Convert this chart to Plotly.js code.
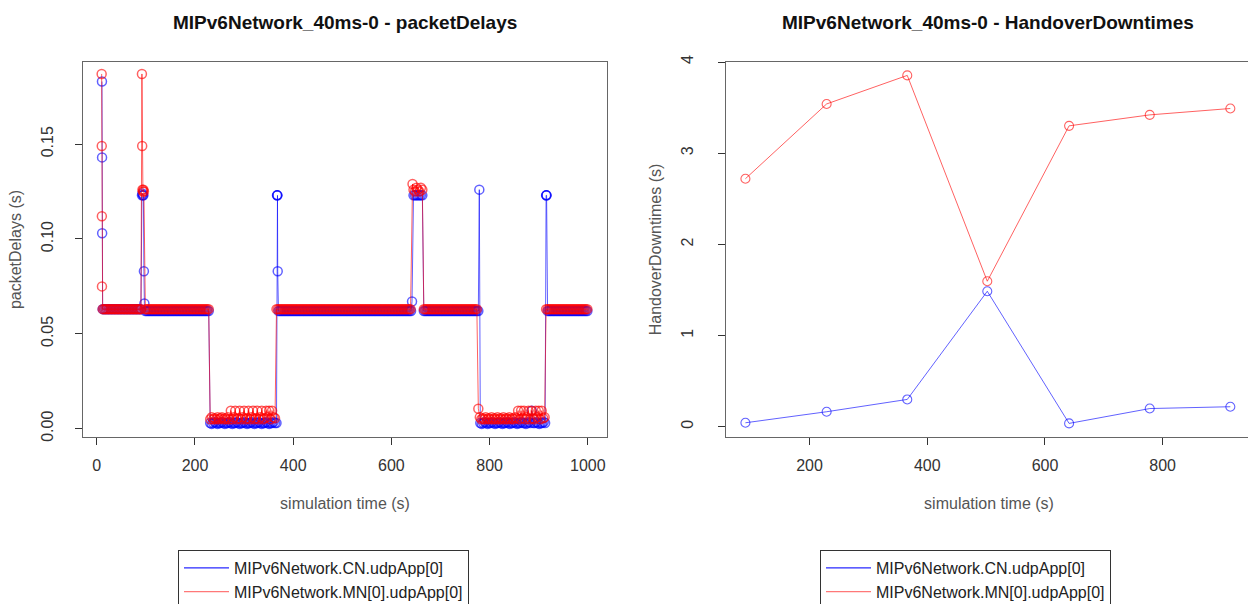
<!DOCTYPE html>
<html>
<head>
<meta charset="utf-8">
<script src="https://cdn.plot.ly/plotly-3.0.1.min.js"></script>
<style>
  html, body { margin: 0; padding: 0; background: #ffffff; overflow: hidden; }
  /* the figure is a little larger than the view; the wrapper crops its right and bottom edges */
  #wrap { position: relative; width: 1248px; height: 604px; overflow: hidden; }
  #chart { width: 1260px; height: 640px; }
</style>
</head>
<body>
<div id="wrap"><div id="chart"></div></div>
<script>
// ---- packetDelays: receive time (s) and end-to-end delay (s) per packet ----

// MIPv6Network.CN.udpApp[0]
const cnTime = [
  10.6, 10.8, 11.0,
  12, 15, 18, 21, 24, 27, 30, 33, 36, 39,
  42, 45, 48, 51, 54, 57, 60, 63, 66, 69,
  72, 75, 78, 81, 84, 87, 90,
  92, 93, 94, 95, 96, 97,
  99, 102, 105, 108, 111, 114, 117, 120, 123, 126,
  129, 132, 135, 138, 141, 144, 147, 150, 153, 156,
  159, 162, 165, 168, 171, 174, 177, 180, 183, 186,
  189, 192, 195, 198, 201, 204, 207, 210, 213, 216,
  219, 222, 225, 228,
  231, 234, 237, 240, 243, 246, 249, 252, 255, 258,
  261, 264, 267, 270, 273, 276, 279, 282, 285, 288,
  291, 294, 297, 300, 303, 306, 309, 312, 315, 318,
  321, 324, 327, 330, 333, 336, 339, 342, 345, 348,
  351, 354, 357, 360, 363, 366,
  367, 367.5, 368, 368.5,
  370, 373, 376, 379, 382, 385, 388, 391, 394, 397,
  400, 403, 406, 409, 412, 415, 418, 421, 424, 427,
  430, 433, 436, 439, 442, 445, 448, 451, 454, 457,
  460, 463, 466, 469, 472, 475, 478, 481, 484, 487,
  490, 493, 496, 499, 502, 505, 508, 511, 514, 517,
  520, 523, 526, 529, 532, 535, 538, 541, 544, 547,
  550, 553, 556, 559, 562, 565, 568, 571, 574, 577,
  580, 583, 586, 589, 592, 595, 598, 601, 604, 607,
  610, 613, 616, 619, 622, 625, 628, 631, 634, 637,
  640,
  642, 645, 648, 651, 654, 657, 660, 663,
  666, 669, 672, 675, 678, 681, 684, 687, 690, 693,
  696, 699, 702, 705, 708, 711, 714, 717, 720, 723,
  726, 729, 732, 735, 738, 741, 744, 747, 750, 753,
  756, 759, 762, 765, 768, 771, 774, 777,
  779,
  781, 784, 787, 790, 793, 796, 799, 802, 805, 808,
  811, 814, 817, 820, 823, 826, 829, 832, 835, 838,
  841, 844, 847, 850, 853, 856, 859, 862, 865, 868,
  871, 874, 877, 880, 883, 886, 889, 892, 895, 898,
  901, 904, 907, 910, 913,
  915, 915.5, 916,
  918, 921, 924, 927, 930, 933, 936, 939, 942, 945,
  948, 951, 954, 957, 960, 963, 966, 969, 972, 975,
  978, 981, 984, 987, 990, 993, 996, 999
];
const cnDelay = [
  0.183, 0.143, 0.103,
  0.063, 0.063, 0.063, 0.063, 0.063, 0.063, 0.063, 0.063, 0.063, 0.063,
  0.063, 0.063, 0.063, 0.063, 0.063, 0.063, 0.063, 0.063, 0.063, 0.063,
  0.063, 0.063, 0.063, 0.063, 0.063, 0.063, 0.063,
  0.123, 0.124, 0.123, 0.123, 0.083, 0.066,
  0.062, 0.062, 0.062, 0.062, 0.062, 0.062, 0.062, 0.062, 0.062, 0.062,
  0.062, 0.062, 0.062, 0.062, 0.062, 0.062, 0.062, 0.062, 0.062, 0.062,
  0.062, 0.062, 0.062, 0.062, 0.062, 0.062, 0.062, 0.062, 0.062, 0.062,
  0.062, 0.062, 0.062, 0.062, 0.062, 0.062, 0.062, 0.062, 0.062, 0.062,
  0.062, 0.062, 0.062, 0.062,
  0.003, 0.0025, 0.003, 0.0035, 0.003, 0.0025, 0.003, 0.003, 0.0035, 0.003,
  0.0025, 0.003, 0.003, 0.0035, 0.003, 0.0025, 0.003, 0.003, 0.0035, 0.003,
  0.0025, 0.003, 0.003, 0.0035, 0.003, 0.0025, 0.003, 0.003, 0.0035, 0.003,
  0.0025, 0.003, 0.003, 0.0035, 0.003, 0.0025, 0.003, 0.003, 0.0035, 0.003,
  0.0025, 0.003, 0.003, 0.0035, 0.003, 0.003,
  0.123, 0.123, 0.123, 0.083,
  0.062, 0.062, 0.062, 0.062, 0.062, 0.062, 0.062, 0.062, 0.062, 0.062,
  0.062, 0.062, 0.062, 0.062, 0.062, 0.062, 0.062, 0.062, 0.062, 0.062,
  0.062, 0.062, 0.062, 0.062, 0.062, 0.062, 0.062, 0.062, 0.062, 0.062,
  0.062, 0.062, 0.062, 0.062, 0.062, 0.062, 0.062, 0.062, 0.062, 0.062,
  0.062, 0.062, 0.062, 0.062, 0.062, 0.062, 0.062, 0.062, 0.062, 0.062,
  0.062, 0.062, 0.062, 0.062, 0.062, 0.062, 0.062, 0.062, 0.062, 0.062,
  0.062, 0.062, 0.062, 0.062, 0.062, 0.062, 0.062, 0.062, 0.062, 0.062,
  0.062, 0.062, 0.062, 0.062, 0.062, 0.062, 0.062, 0.062, 0.062, 0.062,
  0.062, 0.062, 0.062, 0.062, 0.062, 0.062, 0.062, 0.062, 0.062, 0.062,
  0.062,
  0.067, 0.123, 0.123, 0.123, 0.123, 0.123, 0.123, 0.123,
  0.062, 0.062, 0.062, 0.062, 0.062, 0.062, 0.062, 0.062, 0.062, 0.062,
  0.062, 0.062, 0.062, 0.062, 0.062, 0.062, 0.062, 0.062, 0.062, 0.062,
  0.062, 0.062, 0.062, 0.062, 0.062, 0.062, 0.062, 0.062, 0.062, 0.062,
  0.062, 0.062, 0.062, 0.062, 0.062, 0.062, 0.062, 0.062,
  0.126,
  0.003, 0.0025, 0.003, 0.0035, 0.003, 0.0025, 0.003, 0.003, 0.0035, 0.003,
  0.0025, 0.003, 0.003, 0.0035, 0.003, 0.0025, 0.003, 0.003, 0.0035, 0.003,
  0.0025, 0.003, 0.003, 0.0035, 0.003, 0.0025, 0.003, 0.003, 0.0035, 0.003,
  0.003, 0.0025, 0.003, 0.0035, 0.003, 0.0095, 0.003, 0.003, 0.0035, 0.003,
  0.0025, 0.003, 0.003, 0.0035, 0.003,
  0.123, 0.123, 0.123,
  0.062, 0.062, 0.062, 0.062, 0.062, 0.062, 0.062, 0.062, 0.062, 0.062,
  0.062, 0.062, 0.062, 0.062, 0.062, 0.062, 0.062, 0.062, 0.062, 0.062,
  0.062, 0.062, 0.062, 0.062, 0.062, 0.062, 0.062, 0.062
];

// MIPv6Network.MN[0].udpApp[0]
const mnTime = [
  10.0, 10.2, 10.4, 10.6,
  12, 15, 18, 21, 24, 27, 30, 33, 36, 39,
  42, 45, 48, 51, 54, 57, 60, 63, 66, 69,
  72, 75, 78, 81, 84, 87, 90,
  92, 92.5, 93, 94, 95, 96,
  99, 102, 105, 108, 111, 114, 117, 120, 123, 126,
  129, 132, 135, 138, 141, 144, 147, 150, 153, 156,
  159, 162, 165, 168, 171, 174, 177, 180, 183, 186,
  189, 192, 195, 198, 201, 204, 207, 210, 213, 216,
  219, 222, 225, 228,
  231, 234, 237, 240, 243, 246, 249, 252, 255, 258,
  261, 264, 267, 270, 273, 276, 279, 282, 285, 288,
  291, 294, 297, 300, 303, 306, 309, 312, 315, 318,
  321, 324, 327, 330, 333, 336, 339, 342, 345, 348,
  351, 354, 357, 360, 363,
  366, 369, 372, 375, 378, 381, 384, 387, 390, 393,
  396, 399, 402, 405, 408, 411, 414, 417, 420, 423,
  426, 429, 432, 435, 438, 441, 444, 447, 450, 453,
  456, 459, 462, 465, 468, 471, 474, 477, 480, 483,
  486, 489, 492, 495, 498, 501, 504, 507, 510, 513,
  516, 519, 522, 525, 528, 531, 534, 537, 540, 543,
  546, 549, 552, 555, 558, 561, 564, 567, 570, 573,
  576, 579, 582, 585, 588, 591, 594, 597, 600, 603,
  606, 609, 612, 615, 618, 621, 624, 627, 630, 633,
  636, 639,
  643, 645, 648, 651, 654, 657, 660, 663,
  666, 669, 672, 675, 678, 681, 684, 687, 690, 693,
  696, 699, 702, 705, 708, 711, 714, 717, 720, 723,
  726, 729, 732, 735, 738, 741, 744, 747, 750, 753,
  756, 759, 762, 765, 768, 771, 774,
  777,
  780, 783, 786, 789, 792, 795, 798, 801, 804, 807,
  810, 813, 816, 819, 822, 825, 828, 831, 834, 837,
  840, 843, 846, 849, 852, 855, 858, 861, 864, 867,
  870, 873, 876, 879, 882, 885, 888, 891, 894, 897,
  900, 903, 906, 909, 912,
  915, 918, 921, 924, 927, 930, 933, 936, 939, 942,
  945, 948, 951, 954, 957, 960, 963, 966, 969, 972,
  975, 978, 981, 984, 987, 990, 993, 996, 999
];
const mnDelay = [
  0.187, 0.149, 0.112, 0.075,
  0.063, 0.063, 0.063, 0.063, 0.063, 0.063, 0.063, 0.063, 0.063, 0.063,
  0.063, 0.063, 0.063, 0.063, 0.063, 0.063, 0.063, 0.063, 0.063, 0.063,
  0.063, 0.063, 0.063, 0.063, 0.063, 0.063, 0.063,
  0.187, 0.149, 0.126, 0.125, 0.126, 0.125,
  0.063, 0.063, 0.063, 0.063, 0.063, 0.063, 0.063, 0.063, 0.063, 0.063,
  0.063, 0.063, 0.063, 0.063, 0.063, 0.063, 0.063, 0.063, 0.063, 0.063,
  0.063, 0.063, 0.063, 0.063, 0.063, 0.063, 0.063, 0.063, 0.063, 0.063,
  0.063, 0.063, 0.063, 0.063, 0.063, 0.063, 0.063, 0.063, 0.063, 0.063,
  0.063, 0.063, 0.063, 0.063,
  0.005, 0.006, 0.005, 0.0055, 0.005, 0.006, 0.005, 0.0055, 0.006, 0.005,
  0.0055, 0.005, 0.006, 0.005, 0.0095, 0.005, 0.006, 0.0095, 0.005, 0.0055,
  0.0095, 0.005, 0.006, 0.0095, 0.005, 0.0055, 0.0095, 0.005, 0.006, 0.0095,
  0.005, 0.0055, 0.0095, 0.005, 0.006, 0.0095, 0.005, 0.0055, 0.0095, 0.006,
  0.0095, 0.005, 0.0095, 0.006, 0.0055,
  0.063, 0.063, 0.063, 0.063, 0.063, 0.063, 0.063, 0.063, 0.063, 0.063,
  0.063, 0.063, 0.063, 0.063, 0.063, 0.063, 0.063, 0.063, 0.063, 0.063,
  0.063, 0.063, 0.063, 0.063, 0.063, 0.063, 0.063, 0.063, 0.063, 0.063,
  0.063, 0.063, 0.063, 0.063, 0.063, 0.063, 0.063, 0.063, 0.063, 0.063,
  0.063, 0.063, 0.063, 0.063, 0.063, 0.063, 0.063, 0.063, 0.063, 0.063,
  0.063, 0.063, 0.063, 0.063, 0.063, 0.063, 0.063, 0.063, 0.063, 0.063,
  0.063, 0.063, 0.063, 0.063, 0.063, 0.063, 0.063, 0.063, 0.063, 0.063,
  0.063, 0.063, 0.063, 0.063, 0.063, 0.063, 0.063, 0.063, 0.063, 0.063,
  0.063, 0.063, 0.063, 0.063, 0.063, 0.063, 0.063, 0.063, 0.063, 0.063,
  0.063, 0.063,
  0.129, 0.126, 0.125, 0.127, 0.126, 0.125, 0.127, 0.126,
  0.063, 0.063, 0.063, 0.063, 0.063, 0.063, 0.063, 0.063, 0.063, 0.063,
  0.063, 0.063, 0.063, 0.063, 0.063, 0.063, 0.063, 0.063, 0.063, 0.063,
  0.063, 0.063, 0.063, 0.063, 0.063, 0.063, 0.063, 0.063, 0.063, 0.063,
  0.063, 0.063, 0.063, 0.063, 0.063, 0.063, 0.063,
  0.0105,
  0.006, 0.005, 0.0055, 0.005, 0.006, 0.005, 0.0055, 0.005, 0.006, 0.005,
  0.0055, 0.005, 0.006, 0.005, 0.0055, 0.005, 0.006, 0.005, 0.0055, 0.005,
  0.006, 0.005, 0.0055, 0.005, 0.006, 0.0055, 0.0095, 0.005, 0.0095, 0.0055,
  0.0095, 0.005, 0.006, 0.0095, 0.005, 0.0095, 0.0055, 0.005, 0.0095, 0.006,
  0.0095, 0.005, 0.0095, 0.0055, 0.006,
  0.063, 0.063, 0.063, 0.063, 0.063, 0.063, 0.063, 0.063, 0.063, 0.063,
  0.063, 0.063, 0.063, 0.063, 0.063, 0.063, 0.063, 0.063, 0.063, 0.063,
  0.063, 0.063, 0.063, 0.063, 0.063, 0.063, 0.063, 0.063, 0.063
];

// ---- HandoverDowntimes: handover time (s) and downtime (s) ----
const hoTimeCN = [91, 229, 366, 502, 641, 778, 915];
const hoDownCN = [0.044, 0.165, 0.30, 1.486, 0.037, 0.20, 0.22];
const hoTimeMN = [91, 229, 366, 502, 641, 778, 915];
const hoDownMN = [2.72, 3.54, 3.853, 1.596, 3.30, 3.42, 3.49];

// tick labels
const delayTicks = [0, 0.05, 0.10, 0.15];
const delayTickText = ['0.00', '0.05', '0.10', '0.15'];
const timeTicks = [0, 200, 400, 600, 800, 1000];
const timeTicksRight = [200, 400, 600, 800];
const downTicks = [0, 1, 2, 3, 4];

const seriesNames = ['MIPv6Network.CN.udpApp[0]', 'MIPv6Network.MN[0].udpApp[0]'];
const blue = 'rgba(0,0,255,0.62)';
const red = 'rgba(255,0,0,0.62)';

// figure size (the visible area is 1248 x 604, measured from the top-left corner)
const W = 1260, H = 640;
const FONT = 'Liberation Sans, Arial, Helvetica, sans-serif';

function series(x, y, color, xa, ya, strokeWidth) {
  return {
    x: x, y: y, xaxis: xa, yaxis: ya,
    type: 'scatter', mode: 'lines+markers',
    line: { color: color, width: 1 },
    marker: { symbol: 'circle-open', size: 9, color: color, line: { width: strokeWidth, color: color } },
    showlegend: false, hoverinfo: 'x+y'
  };
}
function legendEntry(name, color, legendId) {
  return {
    x: [null], y: [null], type: 'scatter', mode: 'lines', name: name,
    line: { color: color, width: 1.2 }, legend: legendId, showlegend: true,
    xaxis: 'x', yaxis: 'y', hoverinfo: 'skip'
  };
}

const traces = [
  series(cnTime, cnDelay, blue, 'x', 'y', 1.5),
  series(mnTime, mnDelay, red, 'x', 'y', 1.5),
  series(hoTimeCN, hoDownCN, blue, 'x2', 'y2', 1.1),
  series(hoTimeMN, hoDownMN, red, 'x2', 'y2', 1.1),
  legendEntry(seriesNames[0], 'rgb(40,40,255)', 'legend'),
  legendEntry(seriesNames[1], 'rgb(255,120,120)', 'legend'),
  legendEntry(seriesNames[0], 'rgb(40,40,255)', 'legend2'),
  legendEntry(seriesNames[1], 'rgb(255,120,120)', 'legend2')
];

// panel frames in pixels from the top-left corner
const frameTop = 62, frameBottom = 437;
const leftL = 83, leftR = 607, rightL = 726, rightR = 1252;
const yDomain = [1 - frameBottom / H, 1 - frameTop / H];

const axisCommon = {
  showgrid: false, zeroline: false,
  showline: true, linecolor: '#666', linewidth: 1, mirror: true,
  ticks: 'outside', ticklen: 7, tickcolor: '#333', tickwidth: 1,
  tickfont: { family: FONT, size: 16, color: '#333' }
};
const titleFont = { family: FONT, size: 16, color: '#555' };

const legendCommon = {
  bordercolor: '#333', borderwidth: 1, bgcolor: '#ffffff',
  font: { family: FONT, size: 16, color: '#222' },
  xanchor: 'left', yanchor: 'top', y: 1 - 550 / H,
  tracegroupgap: 0, itemwidth: 45
};

const layout = {
  width: W, height: H,
  margin: { l: 0, r: 0, t: 0, b: 0 },
  paper_bgcolor: '#ffffff', plot_bgcolor: '#ffffff',
  font: { family: FONT },
  showlegend: true,
  xaxis: Object.assign({}, axisCommon, {
    domain: [leftL / W, leftR / W], range: [-28, 1039],
    tickvals: timeTicks, anchor: 'y', ticklabelstandoff: 7,
    title: { text: 'simulation time (s)', font: titleFont, standoff: 24 }
  }),
  yaxis: Object.assign({}, axisCommon, {
    domain: yDomain, range: [-0.0044, 0.1933],
    tickvals: delayTicks, ticktext: delayTickText, tickangle: -90, anchor: 'x',
    ticklabelstandoff: 16,
    title: { text: 'packetDelays (s)', font: titleFont, standoff: 12 }
  }),
  xaxis2: Object.assign({}, axisCommon, {
    domain: [rightL / W, rightR / W], range: [58, 951.8],
    tickvals: timeTicksRight, anchor: 'y2', ticklabelstandoff: 7,
    title: { text: 'simulation time (s)', font: titleFont, standoff: 24 }
  }),
  yaxis2: Object.assign({}, axisCommon, {
    domain: yDomain, range: [-0.112, 4.0],
    tickvals: downTicks, tickangle: -90, anchor: 'x2', ticklabelstandoff: 19,
    title: { text: 'HandoverDowntimes (s)', font: titleFont, standoff: 12 }
  }),
  legend: Object.assign({}, legendCommon, { x: 178 / W }),
  legend2: Object.assign({}, legendCommon, { x: 820 / W }),
  annotations: [
    {
      text: '<b>MIPv6Network_40ms-0 - packetDelays</b>', xref: 'paper', yref: 'paper',
      x: (leftL + leftR) / 2 / W, y: 1 - 23 / H, xanchor: 'center', yanchor: 'middle',
      showarrow: false, font: { family: FONT, size: 19, color: '#111' }
    },
    {
      text: '<b>MIPv6Network_40ms-0 - HandoverDowntimes</b>', xref: 'paper', yref: 'paper',
      x: 988 / W, y: 1 - 23 / H, xanchor: 'center', yanchor: 'middle',
      showarrow: false, font: { family: FONT, size: 19, color: '#111' }
    }
  ]
};

Plotly.newPlot('chart', traces, layout, { displayModeBar: false, staticPlot: true });
</script>
</body>
</html>
